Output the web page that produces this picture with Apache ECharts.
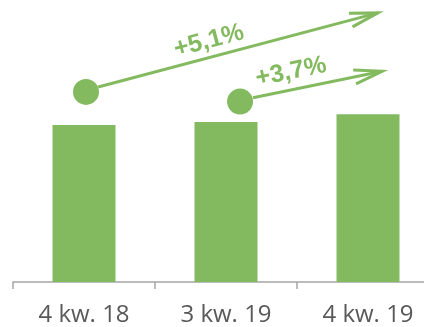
<!DOCTYPE html>
<html>
<head>
<meta charset="utf-8">
<script src="https://cdn.jsdelivr.net/npm/echarts@6/dist/echarts.min.js"></script>
<style>html,body{margin:0;padding:0;background:#fff;overflow:hidden}#c{width:439px;height:327px}</style>
</head>
<body>
<div id="c"></div>
<script>
var categories = ['4 kw. 18', '3 kw. 19', '4 kw. 19'];
var values = [100, 101.9, 106.8];
var growthLabels = ['+5,1%', '+3,7%'];
// annotation anchors in data space: x on a 0..3 value scale over the categories, y in value units
var arrowFrom = [[0.60, 124.2], [1.69, 117.4]];
var arrowTo = [[2.57, 171.4], [2.60, 134.2]];
var dots = [[0.514, 121.1], [1.599, 114.9]];
var labelAt = [[1.38, 153.5], [1.958, 133.8]];

var green = '#84BA5F';
var chart = echarts.init(document.getElementById('c'), null, {renderer: 'canvas'});

var arrowData = growthLabels.map(function (t, i) {
  return [arrowFrom[i][0], arrowFrom[i][1], arrowTo[i][0], arrowTo[i][1], labelAt[i][0], labelAt[i][1], i];
});

chart.setOption({
  animation: false,
  grid: {left: 13, right: 0, top: 9, bottom: 38, containLabel: false},
  xAxis: [{
    type: 'category',
    data: categories,
    axisLine: {lineStyle: {color: '#A6A6A6', width: 1.5}},
    axisTick: {show: true, length: 7, lineStyle: {color: '#A6A6A6', width: 1.5}},
    axisLabel: {color: '#595959', fontSize: 24, fontFamily: 'Open Sans', margin: 21}
  }, {
    type: 'value', min: 0, max: 3, show: false
  }],
  yAxis: {type: 'value', min: 0, max: 173.9, show: false, splitLine: {show: false}},
  series: [{
    type: 'bar',
    data: values,
    barWidth: 63,
    itemStyle: {color: green}
  }, {
    type: 'scatter',
    xAxisIndex: 1,
    data: dots,
    symbol: 'circle',
    symbolSize: 26,
    itemStyle: {color: green, opacity: 1},
    z: 5
  }, {
    type: 'custom',
    xAxisIndex: 1,
    data: arrowData,
    z: 6,
    renderItem: function (params, api) {
      var p0 = api.coord([api.value(0), api.value(1)]);
      var p1 = api.coord([api.value(2), api.value(3)]);
      var pl = api.coord([api.value(4), api.value(5)]);
      var ang = Math.atan2(p1[1] - p0[1], p1[0] - p0[0]);
      var headLen = 29, spread = 14 * Math.PI / 180;
      var a1 = [p1[0] - headLen * Math.cos(ang - spread), p1[1] - headLen * Math.sin(ang - spread)];
      var a2 = [p1[0] - headLen * Math.cos(ang + spread), p1[1] - headLen * Math.sin(ang + spread)];
      return {
        type: 'group',
        children: [{
          type: 'polyline',
          shape: {points: [p0, p1]},
          style: {stroke: green, lineWidth: 3, fill: null}
        }, {
          type: 'polyline',
          shape: {points: [a1, p1, a2]},
          style: {stroke: green, lineWidth: 3, fill: null, lineJoin: 'miter'}
        }, {
          type: 'text',
          x: pl[0], y: pl[1],
          rotation: -ang,
          style: {
            text: growthLabels[api.value(6)],
            fill: green,
            fontSize: 25,
            fontWeight: 'bold',
            fontFamily: 'Liberation Sans',
            align: 'center',
            verticalAlign: 'middle'
          }
        }]
      };
    }
  }]
});
</script>
</body>
</html>
